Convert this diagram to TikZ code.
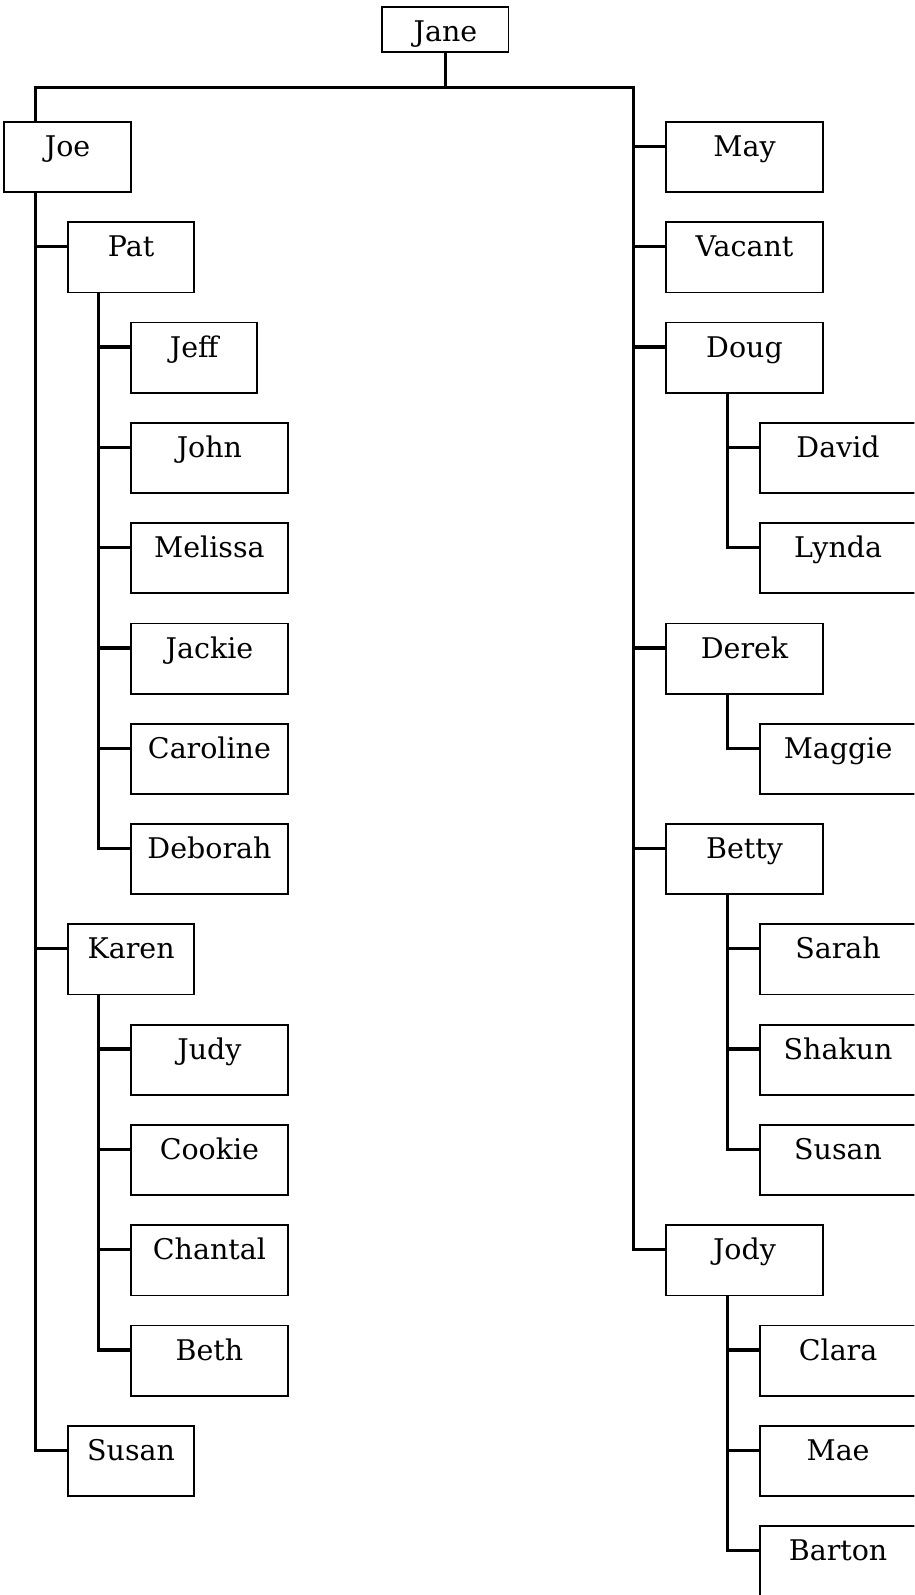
\documentclass[tikz,border=0pt]{standalone}
\usepackage{fontspec}
\setmainfont{DejaVu Serif}
\usetikzlibrary{positioning}

\tikzset{
  person/.style={draw,line width=1.8pt,inner sep=0pt,anchor=north west,
    text height=34pt,text depth=35pt,minimum width=154pt},
  short/.style={person,minimum width=124pt},
  conn/.style={line width=3.2pt,line join=miter}
}

\begin{document}
\begin{tikzpicture}[x=1pt,y=-1pt,font=\fontsize{28}{32}\selectfont]
\useasboundingbox (0,0) rectangle (899,1568);
\clip (0,0) rectangle (899,1568);
% top
\node[short,text depth=10pt] (jane) at (375,6) {Jane};
% left side
\node[short,minimum width=125pt] (joe) at (3,119) {Joe};
\node[short] (pat) at (66,217.6) {Pat};
\node[short] (jeff) at (128,316.2) {Jeff};
\node[person] (john) at (128,414.8) {John};
\node[person] (melissa) at (128,513.4) {Melissa};
\node[person] (jackie) at (128,612) {Jackie};
\node[person] (caroline) at (128,710.6) {Caroline};
\node[person] (deborah) at (128,809.2) {Deborah};
\node[short] (karen) at (66,907.8) {Karen};
\node[person] (judy) at (128,1006.4) {Judy};
\node[person] (cookie) at (128,1105) {Cookie};
\node[person] (chantal) at (128,1203.6) {Chantal};
\node[person] (beth) at (128,1302.2) {Beth};
\node[short] (susanL) at (66,1400.8) {Susan};
% right side
\node[person] (may) at (654,119) {May};
\node[person] (vacant) at (654,217.6) {Vacant};
\node[person] (doug) at (654,316.2) {Doug};
\node[person] (david) at (746,414.8) {David};
\node[person] (lynda) at (746,513.4) {Lynda};
\node[person] (derek) at (654,612) {Derek};
\node[person] (maggie) at (746,710.6) {Maggie};
\node[person] (betty) at (654,809.2) {Betty};
\node[person] (sarah) at (746,907.8) {Sarah};
\node[person] (shakun) at (746,1006.4) {Shakun};
\node[person] (susanR) at (746,1105) {Susan};
\node[person] (jody) at (654,1203.6) {Jody};
\node[person] (clara) at (746,1302.2) {Clara};
\node[person] (mae) at (746,1400.8) {Mae};
\node[person] (barton) at (746,1499.4) {Barton};

% main bar
\draw[conn] (jane.south) -- ++(0,34) coordinate (bar);
\coordinate (ltrunk) at ([xshift=32pt]joe.north west);
\coordinate (rtrunk) at ([xshift=-31pt]may.west |- bar);
\draw[conn] (ltrunk) |- (rtrunk) |- ([yshift=10pt]jody.base west);
\draw[conn] ([xshift=32pt]joe.south west) |- ([yshift=10pt]susanL.base west);
\foreach \c in {pat,karen}
  \draw[conn] ([yshift=10pt]\c.base west) -- ++(-32,0);
\foreach \c in {may,vacant,doug,derek,betty}
  \draw[conn] ([yshift=10pt]\c.base west) -- ++(-31,0);

% Pat
\draw[conn] ([xshift=-31pt]jeff.west |- pat.south) |- ([yshift=10pt]deborah.base west);
\foreach \c in {jeff,john,melissa,jackie,caroline}
  \draw[conn] ([yshift=10pt]\c.base west) -- ++(-31,0);
% Karen
\draw[conn] ([xshift=-31pt]judy.west |- karen.south) |- ([yshift=10pt]beth.base west);
\foreach \c in {judy,cookie,chantal}
  \draw[conn] ([yshift=10pt]\c.base west) -- ++(-31,0);

% Doug, Derek, Betty, Jody
\draw[conn] ([xshift=-31pt]david.west |- doug.south) |- ([yshift=10pt]lynda.base west);
\draw[conn] ([yshift=10pt]david.base west) -- ++(-31,0);
\draw[conn] ([xshift=-31pt]maggie.west |- derek.south) |- ([yshift=10pt]maggie.base west);
\draw[conn] ([xshift=-31pt]sarah.west |- betty.south) |- ([yshift=10pt]susanR.base west);
\foreach \c in {sarah,shakun}
  \draw[conn] ([yshift=10pt]\c.base west) -- ++(-31,0);
\draw[conn] ([xshift=-31pt]clara.west |- jody.south) |- ([yshift=10pt]barton.base west);
\foreach \c in {clara,mae}
  \draw[conn] ([yshift=10pt]\c.base west) -- ++(-31,0);
\end{tikzpicture}
\end{document}
